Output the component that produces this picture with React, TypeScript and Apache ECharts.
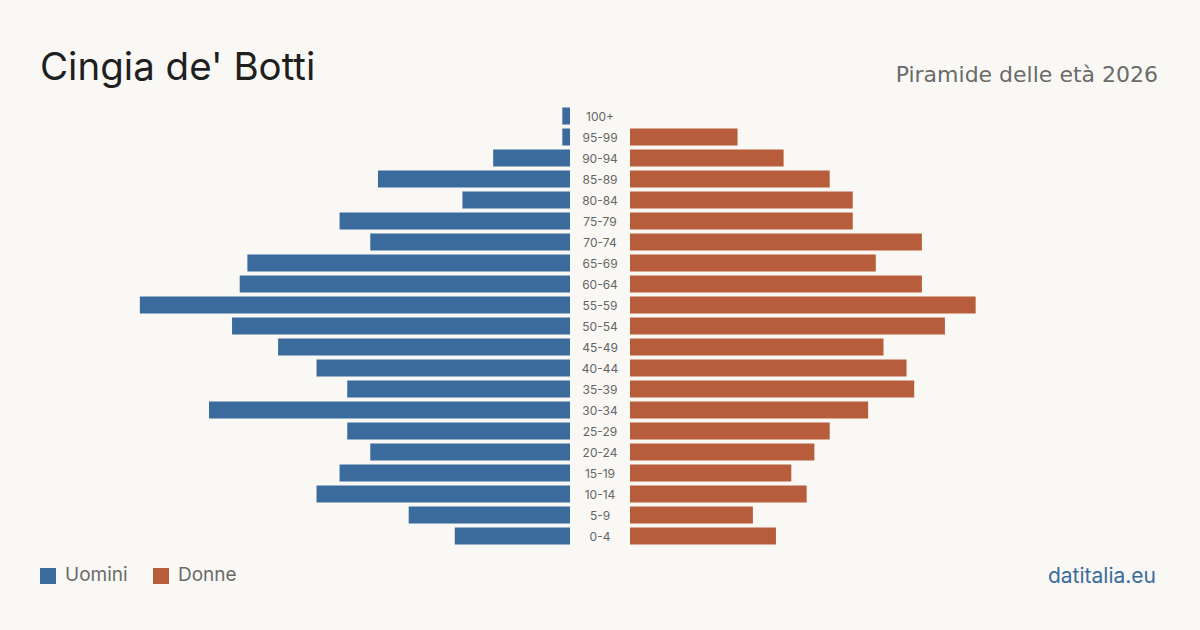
import React, { useEffect, useRef } from "react";
import * as echarts from "echarts";

const categories = ["0-4","5-9","10-14","15-19","20-24","25-29","30-34","35-39","40-44","45-49","50-54","55-59","60-64","65-69","70-74","75-79","80-84","85-89","90-94","95-99","100+"];
const men = [15,21,33,30,26,29,47,29,33,38,44,56,43,42,26,30,14,25,10,1,1];
const women = [19,16,23,21,24,26,31,37,36,33,41,45,38,32,38,29,29,26,20,14,0];

const title = "Cingia de' Botti";
const subtitle = "Piramide delle età 2026";
const source = "datitalia.eu";

const BLUE = "#3b6b9c";
const ORANGE = "#b85d3c";
const BG = "#f9f8f4";
const FONT = "Inter, 'Noto Sans', sans-serif";

export default function App() {
  const ref = useRef<HTMLDivElement>(null);
  useEffect(() => {
    const chart = echarts.init(ref.current!, null, { renderer: "svg" });
    const top = 105.5;
    const height = 441;
    const MAX = 69;
    chart.setOption({
      animation: false,
      backgroundColor: BG,
      textStyle: { fontFamily: FONT },
      grid: [
        { left: 40, width: 530, top, height },
        { left: 630, width: 530, top, height },
      ],
      xAxis: [
        { gridIndex: 0, type: "value", min: 0, max: MAX, inverse: true, show: false },
        { gridIndex: 1, type: "value", min: 0, max: MAX, show: false },
      ],
      yAxis: [
        {
          gridIndex: 0, type: "category", data: categories, position: "right",
          axisLine: { show: false }, axisTick: { show: false },
          axisLabel: { align: "center", margin: 30, color: "#666", fontSize: 12, fontFamily: FONT },
        },
        {
          gridIndex: 1, type: "category", data: categories, show: false,
        },
      ],
      series: [
        { type: "bar", xAxisIndex: 0, yAxisIndex: 0, data: men, barWidth: 17, itemStyle: { color: BLUE } },
        { type: "bar", xAxisIndex: 1, yAxisIndex: 1, data: women, barWidth: 17, itemStyle: { color: ORANGE } },
      ],
      graphic: [
        { type: "text", left: 40, top: 46, style: { text: title, fontSize: 38.5, fill: "#1f1f1f", fontFamily: FONT } },
        { type: "text", right: 42, top: 63, style: { text: subtitle, fontSize: 22, fill: "#6b6b6b", fontFamily: "'DejaVu Sans', sans-serif" } },
        { type: "rect", shape: { x: 40, y: 568, width: 16, height: 16 }, style: { fill: BLUE } },
        { type: "text", left: 65, top: 565, style: { text: "Uomini", fontSize: 19, fill: "#6b6b6b", fontFamily: FONT } },
        { type: "rect", shape: { x: 153, y: 568, width: 16, height: 16 }, style: { fill: ORANGE } },
        { type: "text", left: 178, top: 565, style: { text: "Donne", fontSize: 19, fill: "#6b6b6b", fontFamily: FONT } },
        { type: "text", right: 44, top: 565, style: { text: source, fontSize: 21, fill: "#3b6b9c", fontFamily: FONT } },
      ],
    });
    return () => chart.dispose();
  }, []);
  return <div ref={ref} style={{ position: "fixed", left: 0, top: 0, width: 1200, height: 630 }} />;
}
